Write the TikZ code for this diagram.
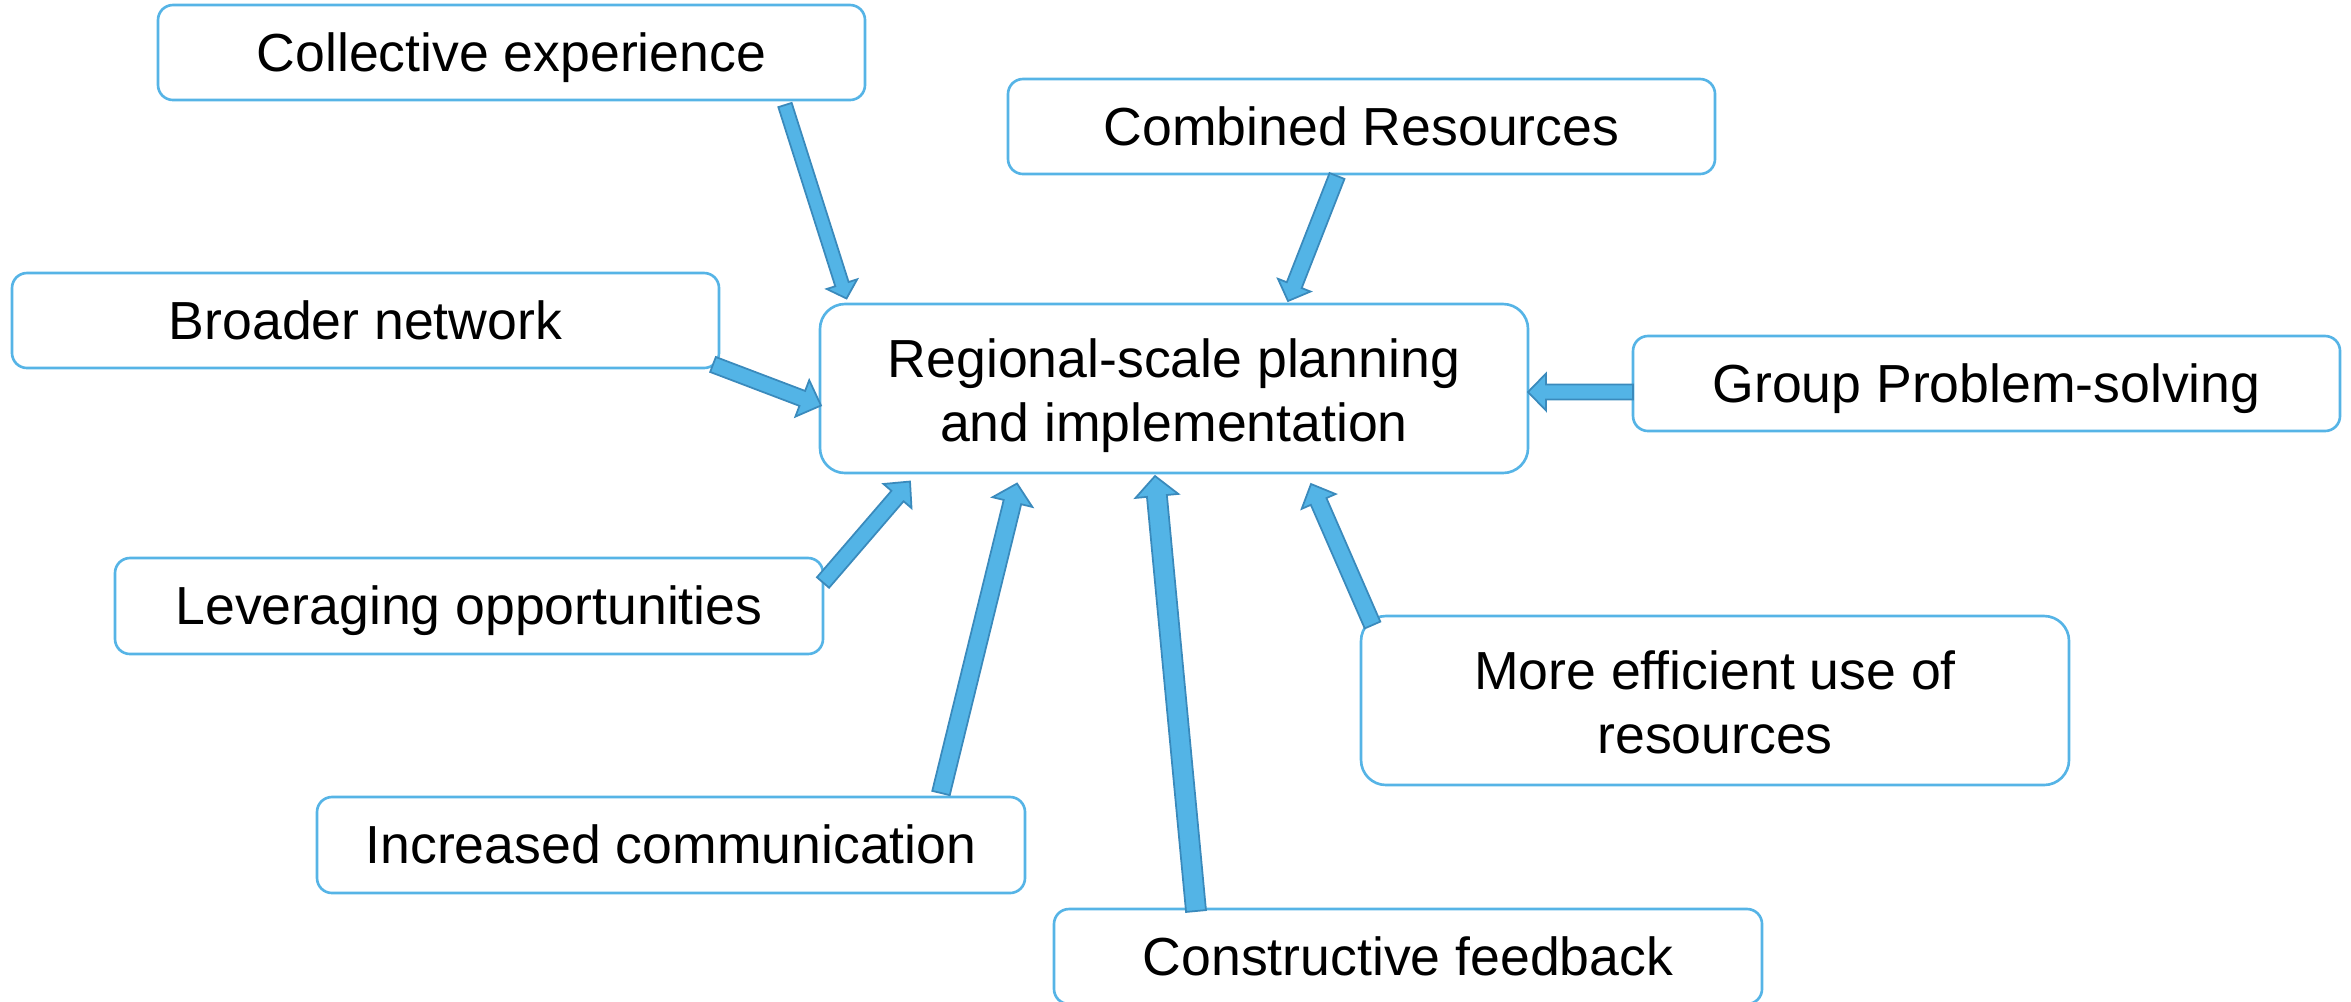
\documentclass[tikz,border=0pt]{standalone}
\usepackage{fontspec}
\setmainfont{Liberation Sans}
\usetikzlibrary{calc}
\definecolor{boxline}{RGB}{86,180,230}
\definecolor{arrfill}{RGB}{83,180,230}
\definecolor{arrline}{RGB}{58,138,188}
\newcommand\ppst{\rule[-0.212em]{0pt}{1.117em}}
\newcommand\firstst{\rule{0pt}{0.53cm}}
\newcommand\lastst{\rule[-0.212em]{0pt}{0.212em}}
\tikzset{
  box/.style={draw=boxline, line width=0.75pt, fill=white, rectangle, rounded corners=0.15cm,
    minimum width=7.07cm, minimum height=0.95cm, inner sep=0pt, align=center,
    font=\fontsize{15.25pt}{18.3pt}\selectfont,
    execute at begin node=\ppst, execute at end node=\ppst},
  bigbox/.style={box, rounded corners=0.25cm, minimum height=1.69cm},
  blockarr/.style={draw=arrline, fill=arrfill, line width=0.5pt, line join=miter}
}
% #1 tail, #2 tip, #3 shaft width, #4 head width, #5 head length
\newcommand\blockarrow[5]{%
  \draw[blockarr] let \p1=(#1), \p2=(#2),
      \n1={atan2(\y2-\y1,\x2-\x1)}, \n2={veclen(\x2-\x1,\y2-\y1)} in
    ($(\p1)+({\n1+90}:{#3/2})$)
    -- ($(\p1)+({\n1}:{\n2*1pt-#5})+({\n1+90}:{#3/2})$)
    -- ($(\p1)+({\n1}:{\n2*1pt-#5})+({\n1+90}:{#4/2})$)
    -- (\p2)
    -- ($(\p1)+({\n1}:{\n2*1pt-#5})+({\n1-90}:{#4/2})$)
    -- ($(\p1)+({\n1}:{\n2*1pt-#5})+({\n1-90}:{#3/2})$)
    -- ($(\p1)+({\n1-90}:{#3/2})$) -- cycle;}
\begin{document}
\begin{tikzpicture}
\useasboundingbox (0,0) rectangle (23.51,-10.01);
\node[box] (coll) at (5.115,-0.525) {Collective experience};
\node[box] (comb) at (13.615,-1.265) {Combined Resources};
\node[box] (broad) at (3.655,-3.205) {Broader network};
\node[bigbox, minimum width=7.08cm] (reg) at (11.74,-3.885) {\firstst Regional-scale planning\\and implementation\lastst};
\node[box] (group) at (19.865,-3.835) {Group Problem-solving};
\node[box, minimum width=7.08cm, minimum height=0.96cm] (lev) at (4.69,-6.06) {Leveraging opportunities};
\node[bigbox, minimum width=7.08cm] (eff) at (17.15,-7.005) {\firstst More efficient use of\\resources\lastst};
\node[box, minimum width=7.08cm, minimum height=0.96cm] (inc) at (6.71,-8.45) {Increased communication};
\node[box, minimum width=7.08cm] (cons) at (14.08,-9.565) {Constructive feedback};

\coordinate (collT) at (7.85,-1.05);   \coordinate (collH) at (8.465,-2.985);
\coordinate (combT) at (13.37,-1.76);  \coordinate (combH) at (12.88,-3.01);
\coordinate (broadT) at (7.13,-3.645); \coordinate (broadH) at (8.21,-4.055);
\coordinate (groupT) at (16.33,-3.92); \coordinate (groupH) at (15.28,-3.92);
\coordinate (levT) at (8.23,-5.825);   \coordinate (levH) at (9.10,-4.815);
\coordinate (incT) at (9.41,-7.93);    \coordinate (incH) at (10.17,-4.835);
\coordinate (consT) at (11.96,-9.11);  \coordinate (consH) at (11.55,-4.76);
\coordinate (effT) at (13.725,-6.25);  \coordinate (effH) at (13.11,-4.84);

\blockarrow{collT}{collH}{0.14cm}{0.32cm}{0.15cm}
\blockarrow{combT}{combH}{0.16cm}{0.35cm}{0.17cm}
\blockarrow{broadT}{broadH}{0.16cm}{0.39cm}{0.20cm}
\blockarrow{groupT}{groupH}{0.15cm}{0.37cm}{0.18cm}
\blockarrow{levT}{levH}{0.16cm}{0.37cm}{0.19cm}
\blockarrow{incT}{incH}{0.18cm}{0.41cm}{0.19cm}
\blockarrow{consT}{consH}{0.20cm}{0.43cm}{0.20cm}
\blockarrow{effT}{effH}{0.17cm}{0.37cm}{0.19cm}
\end{tikzpicture}
\end{document}
